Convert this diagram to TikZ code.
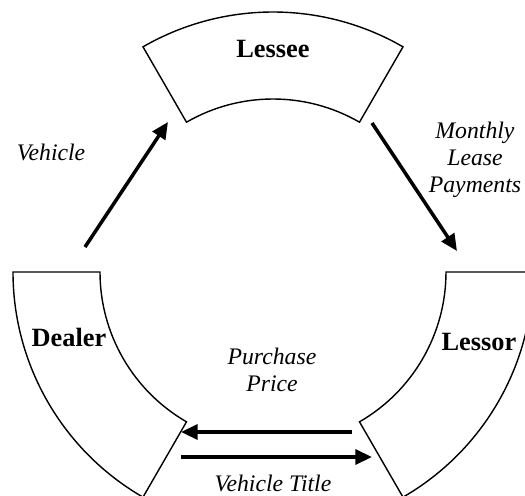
\documentclass[tikz,border=0pt]{standalone}
\usepackage{fontspec}
\setmainfont{Liberation Serif}
\usetikzlibrary{arrows.meta}
\begin{document}
\begin{tikzpicture}
  [x=0.02cm,y=0.02cm,
   sector/.style={draw,line width=0.8pt},
   party/.style={font=\fontsize{15}{17}\selectfont\bfseries,inner sep=0pt},
   flow/.style={-{Triangle[length=9.5pt,width=8.5pt]},line width=2pt},
   note/.style={font=\fontsize{13.5}{15.5}\selectfont\itshape,align=center,inner sep=0pt}]
  \useasboundingbox (-273,-223) rectangle (252,272);
  \clip (-273,-223) rectangle (252,272);

  % ring pieces
  \foreach \a in {60,180,300}
    \draw [sector] (\a:173) arc[start angle=\a,end angle=\a+60,radius=173]
      -- ({\a+60}:260) arc[start angle=\a+60,end angle=\a,radius=260] -- cycle;

  \node (lessee) at (0,223) [party] {Lessee};
  \node (dealer) at (-204,-65) [party] {Dealer};
  \node (lessor) at (206,-70) [party] {Lessor};

  \coordinate (vehA) at (-188,25);
  \coordinate (vehB) at (-105,150);
  \coordinate (payA) at (99,149);
  \coordinate (payB) at (184,21);
  \coordinate (priceA) at (79,-160);
  \coordinate (priceB) at (-92,-160);
  \coordinate (titleA) at (-92,-185);
  \coordinate (titleB) at (99,-185);

  \draw [flow] (vehA) to (vehB);
  \draw [flow] (payA) to (payB);
  \draw [flow] (priceA) to (priceB);
  \draw [flow] (titleA) to (titleB);

  \node (veh) at (-222,120) [note] {Vehicle};
  \node (pay) at (202,112) [note] {Monthly\\Lease\\Payments};
  \node (price) at (-1,-98) [note] {Purchase\\Price};
  \node (title) at (0,-211) [note] {Vehicle Title};
\end{tikzpicture}
\end{document}
